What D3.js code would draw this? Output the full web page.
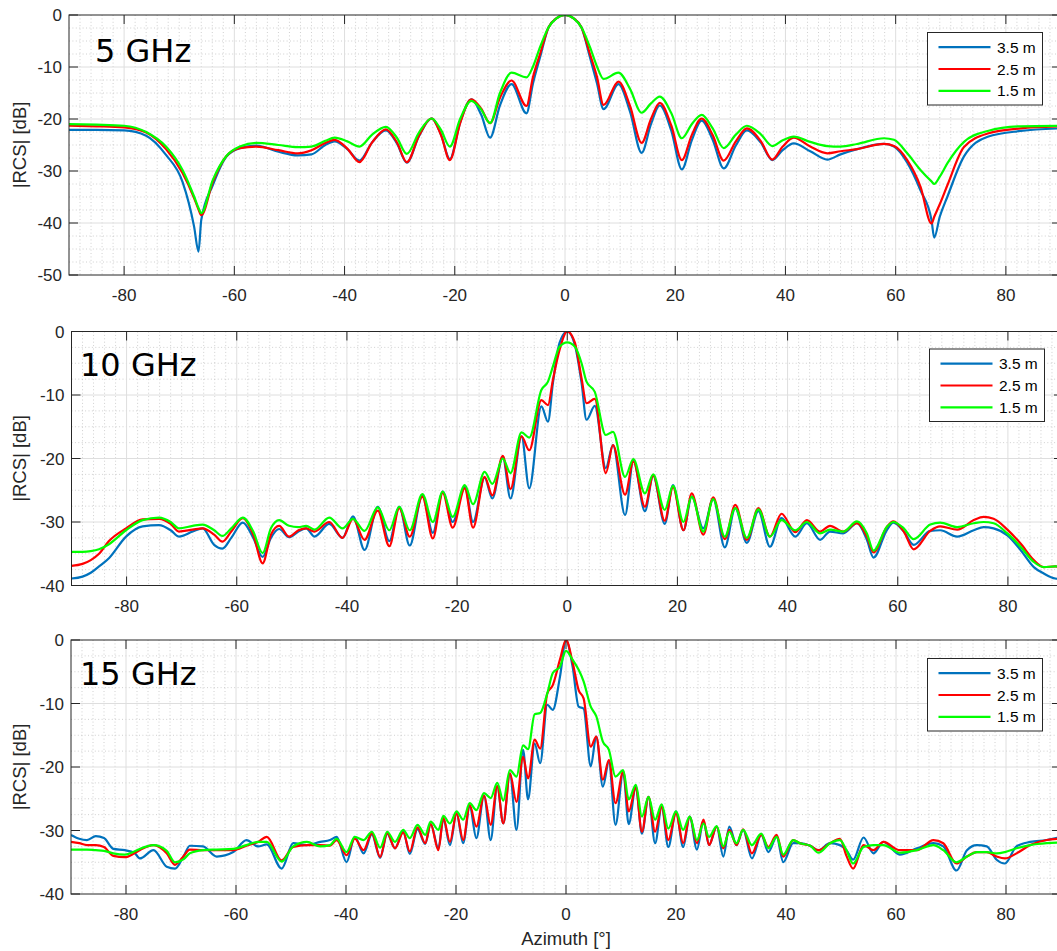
<!DOCTYPE html>
<html>
<head>
<meta charset="utf-8">
<script src="https://cdn.jsdelivr.net/npm/d3@7"></script>
<style>
  html, body { margin: 0; padding: 0; background: #ffffff; }
  svg { display: block; }
</style>
</head>
<body>
<svg id="chart" width="1057" height="951"></svg>
<script>
// ---- Measured monostatic RCS vs. azimuth, three ranges, three frequencies ----

const seriesNames = ["3.5 m", "2.5 m", "1.5 m"];
const seriesColors = ["#0072BD", "#FF0000", "#00FF00"];
const panelTitles = ["5 GHz", "10 GHz", "15 GHz"];
const xTickValues = [-80, -60, -40, -20, 0, 20, 40, 60, 80];
const yTickValues5 = [-50, -40, -30, -20, -10, 0];
const yTickValues = [-40, -30, -20, -10, 0];

// 5 GHz
const az5 = [-90, -85, -80, -76, -72.4, -69.4, -67.3, -66.5, -66, -63.9,
  -61.5, -59, -56, -52, -48.5, -46, -43.5, -41.8, -39.5, -37.3,
  -35, -32.5, -30.5, -28.7, -26.5, -24.2, -22.5, -20.9, -19, -17,
  -15.2, -13.6, -11.8, -9.7, -7, -5.8, -4.5, -3, -1.5, 0,
  1.5, 3, 4.5, 5.8, 7, 9.7, 11.8, 13.9, 15.6, 17.2,
  19.3, 21.2, 23, 24.8, 26.8, 28.8, 31, 33, 35.5, 37.6,
  39.5, 41.5, 44.5, 47.6, 50, 53, 57.9, 59.7, 62.1, 64.5,
  66.5, 67, 68, 69.4, 72.4, 76.7, 82.7, 90];
const rcs5_35 = [-22.1, -22.1, -22.2, -23.2, -26.9, -32.1, -40.7, -45.5, -39.4, -32.7,
  -27.3, -25.6, -25.1, -26.3, -27.0, -26.8, -25.0, -24.3, -25.8, -28.0,
  -24.5, -22.2, -24.7, -28.4, -23.3, -19.9, -23.0, -27.7, -20.6, -16.2,
  -19.2, -23.6, -17.4, -13.3, -18.9, -13.1, -8.0, -2.4, -0.6, 0,
  -0.6, -2.4, -8.0, -13.1, -18.1, -13.3, -18.6, -26.5, -21.0, -17.4,
  -22.3, -29.7, -24.1, -20.3, -24.0, -29.5, -25.1, -22.2, -24.5, -27.9,
  -26.0, -24.7, -26.2, -27.8, -26.8, -25.8, -24.8, -25.3, -28.4, -33.7,
  -39.4, -42.8, -38.8, -34.9, -27.2, -23.4, -22.3, -21.8];
const rcs5_25 = [-21.3, -21.4, -21.6, -22.6, -25.8, -30.4, -35.2, -37.4, -38.5, -32.1,
  -27.2, -25.6, -25.3, -26.0, -26.6, -26.0, -24.6, -24.0, -25.7, -28.3,
  -24.5, -22.0, -24.5, -28.3, -23.2, -19.9, -23.1, -27.9, -20.7, -16.2,
  -18.0, -20.8, -15.9, -12.6, -17.5, -11.9, -7.4, -2.4, -0.6, 0,
  -0.6, -2.4, -7.4, -11.9, -17.3, -12.8, -17.5, -24.6, -20.0, -16.9,
  -21.3, -27.9, -23.1, -19.9, -23.1, -28.0, -24.3, -21.8, -24.2, -27.8,
  -25.3, -23.6, -25.3, -26.6, -26.2, -25.8, -24.8, -25.2, -27.9, -33.0,
  -40.1, -38.8, -36.4, -32.7, -25.4, -22.8, -21.8, -21.4];
const rcs5_15 = [-21.0, -21.1, -21.3, -22.5, -25.3, -29.8, -34.9, -37.1, -38.1, -31.7,
  -27.2, -25.3, -24.6, -25.0, -25.4, -25.3, -24.2, -23.6, -24.3, -25.3,
  -23.0, -21.5, -23.6, -26.7, -22.6, -19.9, -22.1, -25.3, -19.9, -16.5,
  -18.2, -20.8, -15.0, -11.1, -12.0, -9.9, -6.1, -2.4, -0.6, 0,
  -0.6, -2.4, -6.1, -9.9, -12.3, -11.1, -14.2, -18.8, -17.0, -15.7,
  -18.9, -23.7, -21.0, -19.2, -21.8, -25.6, -23.0, -21.3, -22.9, -25.2,
  -24.1, -23.4, -24.4, -25.2, -25.3, -24.8, -23.7, -24.0, -26.6, -29.8,
  -32.0, -32.5, -31.1, -28.5, -24.4, -22.3, -21.4, -21.3];

// 10 GHz
const az10 = [-90, -88, -86.5, -85, -83.2, -80.1, -77.1, -74.1, -72, -70.5,
  -68, -66.2, -64.1, -62.6, -61, -58.9, -57, -55.3, -53.8, -52.3,
  -50.5, -48.8, -47.4, -45.9, -43.2, -40.8, -38.9, -36.8, -34.4, -32.3,
  -30.5, -28.6, -26.3, -24.4, -22.6, -20.8, -18.6, -17.1, -15, -13.6,
  -11.7, -10.3, -8.3, -6.9, -4.7, -3.5, -2.6, -1.4, 0, 1.4,
  2.6, 3.5, 5, 7, 8.3, 10.5, 12, 14.1, 15.6, 17.7,
  19.2, 21.1, 22.6, 24.7, 26.5, 28.6, 30.5, 32.6, 34.7, 36.8,
  38.9, 41.4, 43.5, 45.9, 47.7, 50.1, 52.6, 54.4, 55.6, 58,
  59.2, 61.1, 62.9, 65.9, 67.7, 70.8, 73.8, 75.6, 77.4, 79.9,
  82.3, 84.7, 86.5, 88.6, 90];
const rcs10_35 = [-38.9, -38.6, -38.0, -37.0, -35.7, -32.3, -30.7, -30.5, -31.3, -32.3,
  -31.5, -31.0, -33.6, -34.2, -32.5, -30.1, -32.5, -35.5, -32.5, -31.1,
  -32.4, -31.5, -31.0, -32.3, -30.3, -32.5, -29.1, -34.4, -27.6, -33.0,
  -27.6, -33.7, -25.8, -31.7, -25.2, -30.0, -24.5, -30.0, -23.0, -26.3,
  -19.8, -26.3, -16.5, -24.7, -11.8, -14.2, -8.1, -1.8, 0, -2.2,
  -8.1, -13.9, -11.7, -21.5, -17.9, -28.9, -20.3, -28.3, -22.7, -30.3,
  -24.2, -31.3, -26.0, -31.0, -26.4, -34.0, -27.8, -33.3, -28.3, -33.9,
  -29.4, -32.3, -30.2, -32.8, -31.5, -31.8, -30.2, -32.8, -35.6, -31.3,
  -30.1, -31.5, -33.6, -31.4, -31.3, -32.3, -31.3, -30.8, -31.0, -32.1,
  -34.4, -37.1, -38.1, -38.9, -39.0];
const rcs10_25 = [-36.9, -36.6, -36.0, -35.0, -33.0, -31.0, -29.6, -29.5, -30.3, -31.5,
  -31.2, -31.0, -32.0, -33.1, -31.5, -29.4, -32.0, -36.5, -32.0, -30.6,
  -32.3, -31.3, -31.0, -31.5, -30.0, -32.5, -29.5, -32.8, -28.2, -33.8,
  -27.8, -32.3, -26.0, -32.6, -25.4, -30.9, -24.7, -30.9, -22.9, -25.8,
  -19.6, -24.8, -16.5, -18.7, -10.8, -11.6, -7.6, -2.9, 0, -1.8,
  -7.4, -11.3, -10.6, -22.3, -17.9, -25.7, -20.5, -27.6, -22.7, -29.8,
  -24.5, -31.3, -25.5, -32.0, -26.1, -32.7, -27.3, -32.8, -27.8, -32.3,
  -28.7, -31.6, -29.7, -31.5, -30.6, -31.5, -30.2, -32.3, -34.8, -30.8,
  -29.9, -31.5, -34.3, -31.4, -30.7, -31.2, -29.7, -29.2, -29.5, -31.2,
  -33.4, -36.0, -37.1, -37.0, -37.2];
const rcs10_15 = [-34.7, -34.7, -34.6, -34.3, -33.5, -31.3, -29.7, -29.3, -30.0, -31.0,
  -30.6, -30.4, -31.3, -32.2, -31.0, -29.3, -31.5, -34.9, -31.0, -29.7,
  -30.6, -30.8, -30.6, -31.2, -29.3, -31.0, -29.5, -31.4, -27.7, -31.3,
  -27.6, -31.3, -25.6, -30.0, -25.2, -29.2, -24.2, -27.2, -22.1, -24.0,
  -20.0, -22.3, -15.9, -16.7, -9.2, -7.9, -5.5, -2.4, -1.7, -2.4,
  -5.0, -7.9, -9.5, -16.3, -15.8, -22.9, -20.1, -25.5, -22.5, -28.1,
  -24.3, -30.0, -26.0, -31.5, -26.4, -32.3, -27.8, -32.5, -28.0, -32.3,
  -29.7, -31.3, -30.0, -31.8, -31.2, -31.5, -29.9, -31.8, -34.5, -30.8,
  -30.0, -31.0, -32.7, -30.4, -30.1, -30.8, -30.2, -30.0, -30.2, -31.8,
  -33.9, -36.3, -37.1, -37.0, -37.0];

// 15 GHz
const az15 = [-90, -88.5, -87.1, -85.5, -84, -82.3, -80.2, -78.5, -77.5, -75,
  -72.6, -71.1, -69.5, -68.4, -66, -63.5, -60.5, -58.1, -56, -54.4,
  -51.7, -49.6, -47.1, -44.7, -42.9, -41.7, -39.9, -38.4, -36.8, -35.3,
  -33.8, -32.5, -31.1, -29.6, -28.4, -27, -25.6, -24.6, -23.2, -22.3,
  -21.1, -19.9, -18.7, -17.5, -16.3, -14.9, -13.7, -12.5, -11.4, -10.2,
  -9, -7.8, -6.9, -5.7, -4.7, -3.4, -2.4, -1.1, 0, 1.2,
  2.3, 3.2, 4.5, 5.5, 6.7, 7.8, 9, 10.4, 11.4, 12.7,
  13.8, 15, 16.2, 17.4, 18.6, 20, 21.3, 22.5, 23.8, 25,
  26, 27.4, 28.6, 29.7, 31, 32.2, 33.8, 35.5, 36.8, 38.3,
  39.5, 41.3, 42.5, 44.4, 45.9, 48, 49.8, 51, 52.2, 54.1,
  55.9, 57.7, 60.7, 63.8, 66.8, 68.6, 71, 72.9, 74.7, 76.5,
  78.3, 79.8, 81.9, 84.4, 87.4, 90];
const rcs15_35 = [-30.7, -31.3, -31.5, -30.9, -31.2, -32.9, -33.1, -33.5, -34.4, -33.1,
  -35.7, -36.0, -34.0, -32.4, -32.5, -34.1, -33.4, -31.5, -32.5, -32.2,
  -36.0, -32.0, -32.3, -31.8, -31.5, -31.0, -35.0, -31.0, -33.6, -30.6,
  -34.3, -30.5, -32.8, -30.2, -33.7, -29.8, -32.1, -29.0, -32.8, -28.2,
  -32.3, -27.3, -32.0, -26.2, -31.2, -24.5, -31.5, -23.0, -28.9, -21.0,
  -29.9, -17.3, -25.1, -16.3, -19.4, -10.2, -11.0, -5.8, 0, -4.2,
  -10.5, -10.8, -19.9, -15.2, -23.1, -19.2, -29.1, -20.8, -29.0, -23.1,
  -30.5, -24.7, -32.0, -26.3, -32.6, -27.0, -32.6, -27.8, -33.0, -28.5,
  -32.3, -29.4, -34.1, -29.4, -32.3, -29.9, -34.4, -30.7, -33.4, -31.0,
  -35.0, -32.0, -32.0, -32.4, -33.1, -32.0, -32.3, -33.1, -34.6, -31.1,
  -33.6, -31.8, -33.8, -32.8, -32.0, -32.5, -36.3, -33.1, -32.3, -32.5,
  -34.6, -35.2, -32.5, -31.8, -31.5, -31.0];
const rcs15_25 = [-31.8, -32.0, -32.3, -32.3, -32.6, -34.0, -34.2, -33.6, -33.1, -32.3,
  -33.6, -35.4, -34.0, -33.0, -33.1, -33.1, -33.1, -32.4, -31.8, -31.0,
  -34.7, -32.6, -32.3, -32.3, -32.4, -31.5, -33.9, -31.3, -33.1, -30.4,
  -34.2, -30.4, -32.8, -30.3, -33.3, -29.5, -32.0, -29.0, -33.1, -28.0,
  -31.8, -27.3, -31.5, -26.0, -29.4, -24.5, -29.1, -23.0, -28.9, -21.0,
  -25.5, -18.4, -21.8, -15.7, -17.1, -8.4, -7.1, -3.1, 0, -3.5,
  -7.9, -9.2, -16.8, -15.2, -22.0, -18.9, -25.7, -20.7, -27.0, -23.3,
  -30.2, -24.7, -30.2, -26.3, -31.5, -27.3, -32.0, -27.8, -32.0, -28.3,
  -32.3, -29.4, -32.8, -29.9, -32.3, -29.8, -33.6, -30.7, -32.6, -30.7,
  -34.1, -31.5, -32.0, -32.4, -33.1, -32.0, -31.3, -34.0, -36.0, -32.3,
  -33.1, -31.8, -33.1, -33.1, -31.5, -32.0, -35.2, -34.1, -33.4, -33.4,
  -34.1, -34.4, -33.6, -32.3, -31.5, -31.3];
const rcs15_15 = [-33.0, -33.0, -33.0, -33.1, -33.2, -33.6, -33.8, -33.3, -32.9, -32.3,
  -33.2, -35.0, -34.5, -33.6, -33.1, -33.0, -32.9, -32.3, -31.8, -31.8,
  -34.9, -32.5, -31.8, -32.5, -32.3, -31.3, -33.4, -31.0, -31.5, -30.2,
  -32.7, -30.2, -31.8, -29.9, -31.2, -29.1, -30.7, -28.6, -29.9, -27.7,
  -28.9, -27.0, -28.3, -25.7, -26.8, -24.1, -24.9, -22.5, -25.3, -20.5,
  -21.5, -16.6, -17.2, -11.7, -11.5, -8.4, -5.2, -4.2, -1.7, -3.1,
  -4.7, -6.5, -10.5, -12.0, -16.0, -17.3, -21.5, -20.5, -25.1, -22.8,
  -27.8, -24.7, -28.3, -25.9, -29.7, -27.0, -29.9, -27.8, -31.5, -28.9,
  -31.0, -29.3, -32.5, -30.2, -32.0, -29.9, -32.3, -30.5, -32.8, -31.0,
  -33.8, -31.5, -32.0, -32.4, -33.5, -32.0, -31.5, -33.1, -35.2, -32.6,
  -32.3, -32.3, -33.5, -33.1, -32.3, -33.1, -35.0, -34.1, -33.4, -33.4,
  -33.6, -33.4, -32.8, -32.3, -32.0, -31.9];

// ---- layout of the three stacked axes ----
const panels = [
  { title: panelTitles[0], az: az5, values: [rcs5_35, rcs5_25, rcs5_15],
    yDomain: [-50, 0], yTicks: yTickValues5,
    left: 69, right: 1061, top: 15, bottom: 275,
    legendX: 927.5, legendY: 32.5, titleX: 95, titleY: 62 },
  { title: panelTitles[1], az: az10, values: [rcs10_35, rcs10_25, rcs10_15],
    yDomain: [-40, 0], yTicks: yTickValues,
    left: 71.5, right: 1063, top: 331.5, bottom: 585.5,
    legendX: 929.5, legendY: 349, titleX: 80, titleY: 376 },
  { title: panelTitles[2], az: az15, values: [rcs15_35, rcs15_25, rcs15_15],
    yDomain: [-40, 0], yTicks: yTickValues,
    left: 71, right: 1061, top: 640, bottom: 894,
    legendX: 927.5, legendY: 658.5, titleX: 80, titleY: 685 }
];

const axisColor = "#262626";
const tickFont = "'Liberation Sans', Arial, Helvetica, sans-serif";
const svg = d3.select("#chart");

panels.forEach((p, pi) => {
  const x = d3.scaleLinear().domain([-90, 90]).range([p.left, p.right]);
  const y = d3.scaleLinear().domain(p.yDomain).range([p.bottom, p.top]);
  const g = svg.append("g");

  // minor grid (dotted)
  const xMinor = d3.range(-88, 90, 2).filter(v => v % 20 !== 0);
  const yMinor = d3.range(p.yDomain[0] + 2.5, 0, 2.5).filter(v => v % 10 !== 0);
  g.append("g").selectAll("line").data(xMinor).join("line")
    .attr("x1", d => x(d)).attr("x2", d => x(d))
    .attr("y1", p.top).attr("y2", p.bottom)
    .attr("stroke", "#c4c4c4").attr("stroke-width", 0.8)
    .attr("stroke-dasharray", "1,2.4");
  g.append("g").selectAll("line").data(yMinor).join("line")
    .attr("x1", p.left).attr("x2", p.right)
    .attr("y1", d => y(d)).attr("y2", d => y(d))
    .attr("stroke", "#c4c4c4").attr("stroke-width", 0.8)
    .attr("stroke-dasharray", "1,2.4");

  // major grid
  g.append("g").selectAll("line").data(xTickValues).join("line")
    .attr("x1", d => x(d)).attr("x2", d => x(d))
    .attr("y1", p.top).attr("y2", p.bottom)
    .attr("stroke", "#dedede").attr("stroke-width", 1);
  g.append("g").selectAll("line").data(p.yTicks.filter(v => v > p.yDomain[0] && v < 0)).join("line")
    .attr("x1", p.left).attr("x2", p.right)
    .attr("y1", d => y(d)).attr("y2", d => y(d))
    .attr("stroke", "#dedede").attr("stroke-width", 1);

  // data traces, clipped to the plot box
  const clipId = "clip" + pi;
  svg.append("clipPath").attr("id", clipId).append("rect")
    .attr("x", p.left).attr("y", p.top)
    .attr("width", p.right - p.left).attr("height", p.bottom - p.top);
  const line = d3.line()
    .x(d => x(d[0])).y(d => y(d[1]))
    .curve(d3.curveMonotoneX);
  const traces = g.append("g").attr("clip-path", `url(#${clipId})`);
  p.values.forEach((vals, si) => {
    traces.append("path")
      .datum(p.az.map((a, i) => [a, vals[i]]))
      .attr("d", line)
      .attr("fill", "none")
      .attr("stroke", seriesColors[si])
      .attr("stroke-width", 2.2)
      .attr("stroke-linejoin", "round");
  });

  // axes box
  g.append("rect")
    .attr("x", p.left).attr("y", p.top)
    .attr("width", p.right - p.left).attr("height", p.bottom - p.top)
    .attr("fill", "none").attr("stroke", axisColor).attr("stroke-width", 1);

  // inward ticks on all four sides
  const tl = 9;
  const ticks = g.append("g").attr("stroke", axisColor).attr("stroke-width", 1);
  xTickValues.forEach(v => {
    ticks.append("line").attr("x1", x(v)).attr("x2", x(v)).attr("y1", p.bottom).attr("y2", p.bottom - tl);
    ticks.append("line").attr("x1", x(v)).attr("x2", x(v)).attr("y1", p.top).attr("y2", p.top + tl);
  });
  p.yTicks.forEach(v => {
    ticks.append("line").attr("x1", p.left).attr("x2", p.left + tl).attr("y1", y(v)).attr("y2", y(v));
    ticks.append("line").attr("x1", p.right).attr("x2", p.right - tl).attr("y1", y(v)).attr("y2", y(v));
  });

  // tick labels
  const fmt = d3.format("d");
  g.append("g").selectAll("text").data(xTickValues).join("text")
    .attr("x", d => x(d)).attr("y", p.bottom + 26)
    .attr("text-anchor", "middle")
    .attr("font-family", tickFont).attr("font-size", 17)
    .attr("fill", axisColor)
    .text(d => fmt(d).replace("−", "-"));
  g.append("g").selectAll("text").data(p.yTicks).join("text")
    .attr("x", p.left - 7).attr("y", d => y(d))
    .attr("dy", "0.36em")
    .attr("text-anchor", "end")
    .attr("font-family", tickFont).attr("font-size", 17)
    .attr("fill", axisColor)
    .text(d => fmt(d).replace("−", "-"));

  // y-axis label
  g.append("text")
    .attr("transform", `translate(26,${(p.top + p.bottom) / 2}) rotate(-90)`)
    .attr("text-anchor", "middle")
    .attr("font-family", tickFont).attr("font-size", 18.5)
    .attr("fill", axisColor)
    .text("|RCS| [dB]");

  // frequency annotation
  g.append("text")
    .attr("x", p.titleX).attr("y", p.titleY)
    .attr("font-family", "'DejaVu Sans', Verdana, sans-serif")
    .attr("font-size", 32)
    .attr("fill", "#000")
    .text(p.title);

  // legend
  const lg = g.append("g").attr("transform", `translate(${p.legendX},${p.legendY})`);
  lg.append("rect")
    .attr("width", 115).attr("height", 72.5)
    .attr("fill", "#fff").attr("stroke", axisColor).attr("stroke-width", 1);
  seriesNames.forEach((name, si) => {
    const ry = 14.7 + si * 21.8;
    lg.append("line")
      .attr("x1", 11).attr("x2", 63).attr("y1", ry).attr("y2", ry)
      .attr("stroke", seriesColors[si]).attr("stroke-width", 2.2);
    lg.append("text")
      .attr("x", 69.5).attr("y", ry).attr("dy", "0.36em")
      .attr("font-family", tickFont).attr("font-size", 15.5)
      .attr("fill", "#000")
      .text(name);
  });
});

// shared x-axis label under the bottom axes
svg.append("text")
  .attr("x", 566).attr("y", 945)
  .attr("text-anchor", "middle")
  .attr("font-family", tickFont).attr("font-size", 18.5)
  .attr("fill", axisColor)
  .text("Azimuth [°]");
</script>
</body>
</html>
